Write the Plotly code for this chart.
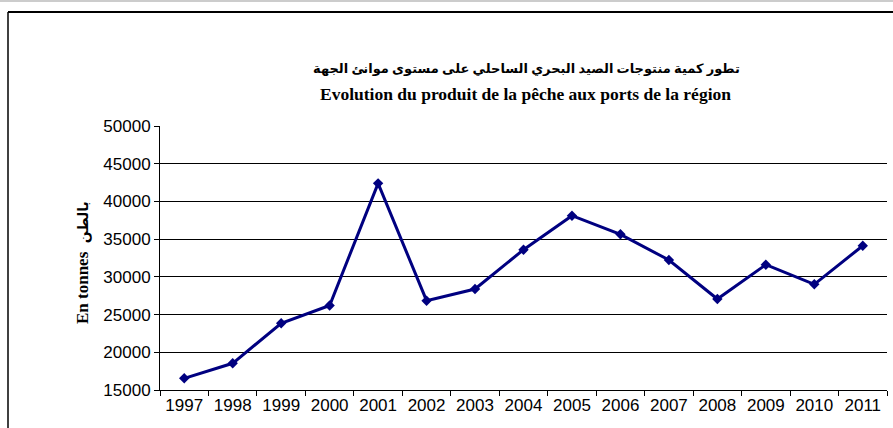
import plotly.graph_objects as go

years = ["1997", "1998", "1999", "2000", "2001", "2002", "2003", "2004",
         "2005", "2006", "2007", "2008", "2009", "2010", "2011"]
tonnes = [16550, 18540, 23850, 26200, 42400, 26840, 28390, 33600,
          38110, 35640, 32230, 27060, 31610, 29010, 34130]
y_ticks = [15000, 20000, 25000, 30000, 35000, 40000, 45000, 50000]
y_tick_labels = ["15000", "20000", "25000", "30000", "35000", "40000", "45000", "50000"]

title_ar = "تطور كمية منتوجات الصيد البحري الساحلي على مستوى موانئ الجهة"
title_fr = "Evolution du produit de la pêche aux ports de la région"
y_title_fr = "En tonnes"
y_title_ar = "بالطن"

W, H = 893, 428
L, R, T, B = 160, 6, 126, 38
PW, PH = W - L - R, H - T - B

def px(x):
    return (x - L) / PW

def py(y):
    return (H - B - y) / PH

fig = go.Figure()
fig.add_trace(go.Scatter(
    x=years, y=tonnes, mode="lines+markers",
    line=dict(color="#000080", width=3),
    marker=dict(symbol="diamond", size=8, color="#000080"),
    showlegend=False, hoverinfo="x+y"))

serif = "Liberation Serif, Times New Roman, DejaVu Sans, serif"
sans = "Liberation Sans, Arial, sans-serif"

fig.update_layout(
    width=W, height=H,
    margin=dict(l=L, r=R, t=T, b=B, autoexpand=False),
    paper_bgcolor="white", plot_bgcolor="white",
    font=dict(family=sans, color="black", size=17),
    xaxis=dict(type="category", showgrid=False, showline=True,
               linecolor="black", linewidth=1, ticks="outside",
               tickson="boundaries", ticklen=5, tickcolor="black",
               tickfont=dict(family=sans, size=17, color="black"),
               range=[-0.5, len(years) - 0.5], fixedrange=True,
               automargin=False),
    yaxis=dict(range=[15000, 50000], tickvals=y_ticks, ticktext=y_tick_labels,
               showgrid=True, gridcolor="black", gridwidth=1,
               showline=True, linecolor="black", linewidth=1,
               ticks="outside", ticklen=5, tickcolor="black",
               tickfont=dict(family=sans, size=17, color="black"),
               zeroline=False, fixedrange=True, automargin=False),
    annotations=[
        dict(text="<b>" + title_ar + "</b>", xref="paper", yref="paper",
             x=px(526), y=py(68), xanchor="center", yanchor="middle",
             showarrow=False, font=dict(family=serif, size=13, color="black")),
        dict(text="<b>" + title_fr + "</b>", xref="paper", yref="paper",
             x=px(525), y=py(94), xanchor="center", yanchor="middle",
             showarrow=False, font=dict(family=serif, size=17.5, color="black")),
        dict(text="<b>" + y_title_fr + "  <span style='font-size:14px'>" + y_title_ar + "</span></b>",
             xref="paper", yref="paper",
             x=px(82), y=py(263), xanchor="center", yanchor="middle",
             textangle=-90, showarrow=False,
             font=dict(family=serif, size=17, color="black")),
    ],
    shapes=[
        dict(type="line", xref="paper", yref="paper",
             x0=px(0), x1=px(W), y0=py(1), y1=py(1),
             line=dict(color="#999999", width=1)),
        dict(type="line", xref="paper", yref="paper",
             x0=px(8), x1=px(W), y0=py(12), y1=py(12),
             line=dict(color="black", width=2)),
        dict(type="line", xref="paper", yref="paper",
             x0=px(8), x1=px(8), y0=py(12), y1=py(H),
             line=dict(color="black", width=1.5)),
    ],
)

fig.write_html("out.html", config={"displayModeBar": False},
               post_script="document.body.style.margin='0';document.body.style.overflow='hidden';")
